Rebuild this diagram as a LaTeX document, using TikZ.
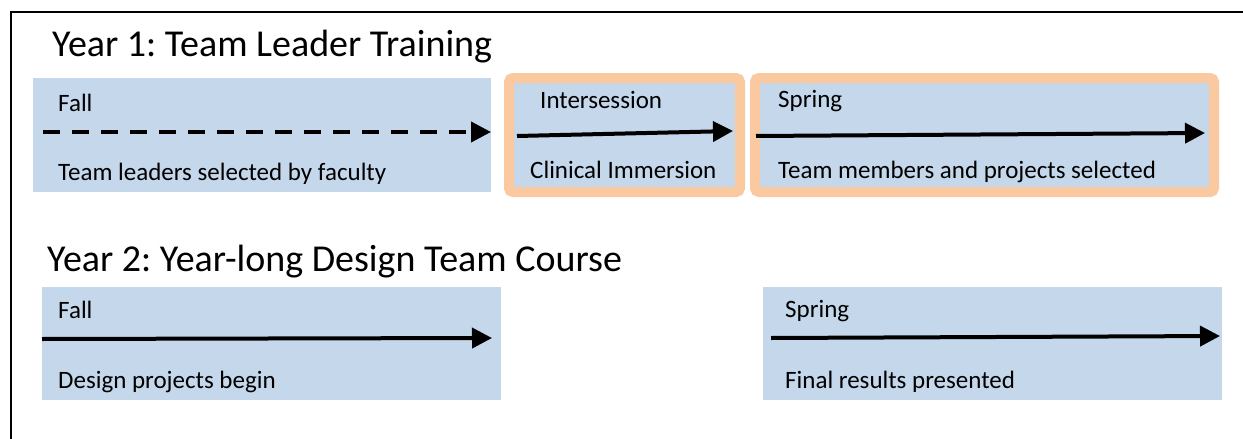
\documentclass[tikz,border=0pt]{standalone}
\usepackage{fontspec}
\setmainfont{Carlito}
\usetikzlibrary{arrows.meta}
\definecolor{boxblue}{RGB}{197,215,235}
\definecolor{boxorange}{RGB}{250,201,160}
\frenchspacing
\begin{document}
\begin{tikzpicture}[x=1pt,y=-1pt,
  frame/.style={line width=2pt,black},
  bluebox/.style={fill=boxblue,draw=none},
  orangebox/.style={fill=boxblue,draw=boxorange,line width=10pt,rounded corners=4pt},
  title/.style={anchor=base west,inner sep=0pt,font=\fontsize{38}{45}\selectfont},
  lbl/.style={anchor=base west,inner sep=0pt,font=\fontsize{25}{30}\selectfont},
  arr/.style={line width=4pt,-{Triangle[length=20pt,width=20pt]}},
  dasharr/.style={arr,dash pattern=on 17pt off 12pt}
]
\useasboundingbox (0,0) rectangle (1243,439);
% frame (top and left edges visible)
\coordinate (fl) at (10.5,439);
\coordinate (ftl) at (10.5,11.5);
\coordinate (fr) at (1243,11.5);
\draw[frame] (fl) -- (ftl) -- (fr);

% titles
\node[title] (t1) at (52,56) {Year 1: Team Leader Training};
\node[title] (t2) at (47,271) {Year 2: Year-long Design Team Course};

% Year 1 boxes
\path[bluebox] (33,78) rectangle (491,192);
\path[orangebox] (509,78) rectangle (740,192);
\path[orangebox] (755,78) rectangle (1214,192);

\node[lbl] (f1) at (58,111) {Fall};
\node[lbl] (d1) at (58,180) {Team leaders selected by faculty};
\node[lbl] (i1) at (540,108) {Intersession};
\node[lbl] (c1) at (530,178) {Clinical Immersion};
\node[lbl] (s1) at (778,107) {Spring};
\node[lbl] (m1) at (778,178) {Team members and projects selected};

\coordinate (a1s) at (43,132);  \coordinate (a1e) at (491,132);
\coordinate (a2s) at (517,136); \coordinate (a2e) at (733,131);
\coordinate (a3s) at (756,136); \coordinate (a3e) at (1205,133);
\draw[dasharr] (a1s) -- (a1e);
\draw[arr] (a2s) -- (a2e);
\draw[arr] (a3s) -- (a3e);

% Year 2 boxes
\path[bluebox] (42,287) rectangle (501,400);
\path[bluebox] (763,287) rectangle (1222,400);

\node[lbl] (f2) at (58,318) {Fall};
\node[lbl] (d2) at (58,388) {Design projects begin};
\node[lbl] (s2) at (785,317) {Spring};
\node[lbl] (r2) at (785,388) {Final results presented};

\coordinate (a4s) at (42,339);  \coordinate (a4e) at (492,338);
\coordinate (a5s) at (771,338); \coordinate (a5e) at (1220,336);
\draw[arr] (a4s) -- (a4e);
\draw[arr] (a5s) -- (a5e);
\end{tikzpicture}
\end{document}
